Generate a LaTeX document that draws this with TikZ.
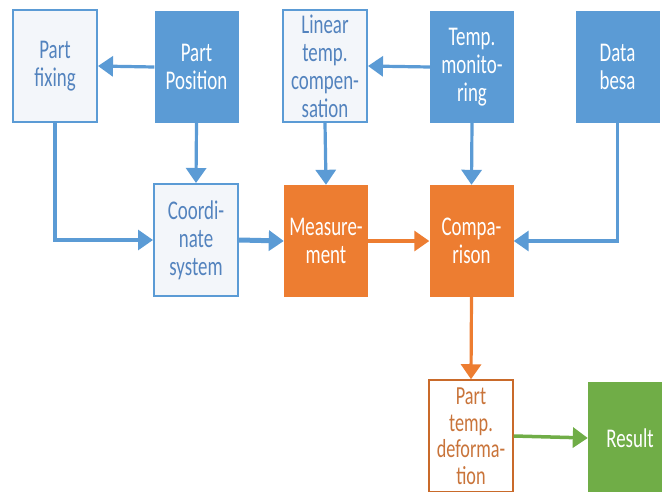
\documentclass[tikz,border=0pt]{standalone}
\usepackage{fontspec}
\setmainfont{Carlito}[FakeStretch=0.7]
\usetikzlibrary{arrows.meta}
\definecolor{boxblue}{HTML}{5B9BD5}
\definecolor{boxorange}{HTML}{ED7D31}
\definecolor{boxgreen}{HTML}{70AD47}
\definecolor{txtblue}{HTML}{5383BE}
\definecolor{txtorange}{HTML}{C9743A}
\definecolor{paleblue}{HTML}{F3F6FA}
\begin{document}
\begin{tikzpicture}[x=1pt,y=-1pt,>={Triangle[length=15pt,width=20pt]},
	box/.style={rectangle,minimum width=84pt,minimum height=112pt,inner sep=0pt,align=center,font=\fontsize{27}{28}\selectfont},
	fullblue/.style={box,fill=boxblue,text=white},
	lineblue/.style={box,draw=boxblue,line width=2pt,fill=paleblue,text=txtblue},
	fullorange/.style={box,fill=boxorange,text=white},
	lineorange/.style={box,draw=boxorange!85!black,line width=1.5pt,fill=white,text=txtorange,font=\fontsize{26}{26.5}\selectfont},
	fullgreen/.style={box,fill=boxgreen,text=white},
	bluearrow/.style={->,draw=boxblue,line width=3.2pt},
	orangearrow/.style={->,draw=boxorange,line width=3.2pt},
	greenarrow/.style={->,draw=boxgreen,line width=3.5pt}]
	\useasboundingbox (0,0) rectangle (662,491);
	\clip (0,0) rectangle (662,491);
	\node[lineblue] (fixing) at (55,66) {Part\\fixing};
	\node[fullblue] (position) at (196.5,67) {Part\\Position};
	\node[lineblue] (lintemp) at (325,66) {Linear\\temp.\\compen-\\sation};
	\node[fullblue] (monitor) at (472,67) {Temp.\\monito-\\ring};
	\node[fullblue] (database) at (617.5,67) {Data\\besa};
	\node[lineblue] (coord) at (196,240) {Coordi-\\nate\\system};
	\node[fullorange] (measure) at (326,241) {Measure-\\ment};
	\node[fullorange] (compar) at (471.5,241) {Compa-\\rison};
	\node[lineorange] (deform) at (471,436) {Part\\temp.\\deforma-\\tion};
	\node[fullgreen] (result) at (630,438) {Result};
	\draw[bluearrow] (position.west) -- (fixing.east);
	\draw[bluearrow] (monitor.west) -- (lintemp.east);
	\draw[bluearrow] (fixing.south) |- (coord.west);
	\draw[bluearrow] (position.south) -- (coord.north);
	\draw[bluearrow] (lintemp.south) -- (measure.north);
	\draw[bluearrow] (monitor.south) -- (compar.north);
	\draw[bluearrow] (database.south) |- (compar.east);
	\draw[bluearrow,line width=5pt] (coord.east) -- (measure.west);
	\draw[orangearrow] (measure.east) -- (compar.west);
	\draw[orangearrow] (compar.south) -- (deform.north);
	\draw[greenarrow] (deform.east) -- (result.west);
\end{tikzpicture}
\end{document}
